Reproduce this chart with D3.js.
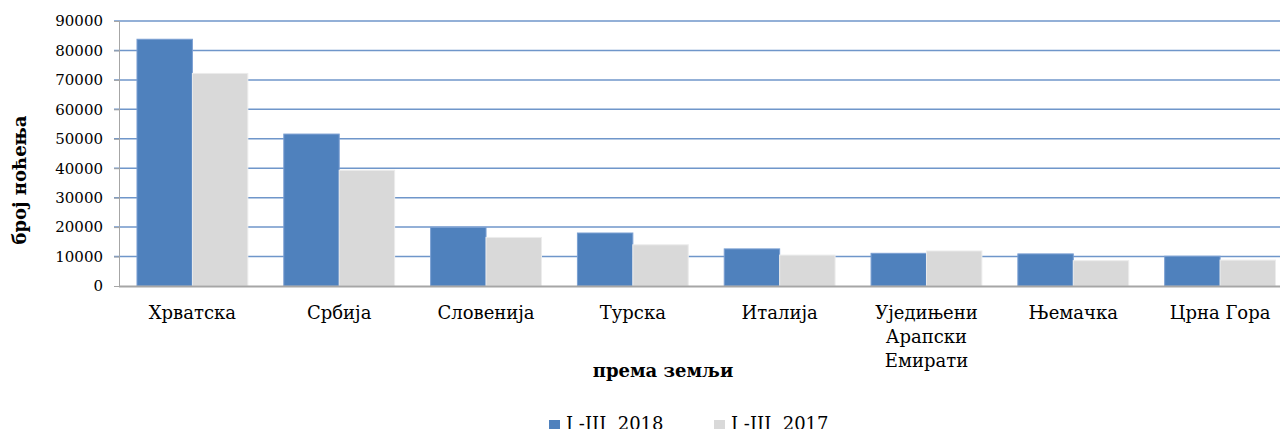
<!DOCTYPE html>
<html>
<head>
  <meta charset="utf-8">
  <title>број ноћења према земљи</title>
  <style>
  body { margin: 0px; background: #fff; overflow: hidden; }
  text { font-family: "DejaVu Serif", serif; fill: #000; }
  </style>
</head>
<body>
  <svg width="1280" height="429"></svg>
  <script src="https://d3js.org/d3.v7.min.js"></script>
  <script>
  // data
  var countries = ["Хрватска", "Србија", "Словенија", "Турска", "Италија",
    "Уједињени Арапски Емирати", "Њемачка", "Црна Гора"];
  var labelLines = [["Хрватска"], ["Србија"], ["Словенија"], ["Турска"], ["Италија"],
    ["Уједињени", "Арапски", "Емирати"], ["Њемачка"], ["Црна Гора"]];
  var series = ["I -III  2018", "I -III  2017"];
  var values2018 = [83800, 51600, 19900, 18000, 12600, 11100, 10900, 10100];
  var values2017 = [72200, 39300, 16500, 14000, 10500, 11900, 8600, 8800];
  var yTicks = [0, 10000, 20000, 30000, 40000, 50000, 60000, 70000, 80000, 90000];
  var colors = ["#4f81bd", "#d9d9d9"];

  var svg = d3.select("svg");
  // plot area (note: "top" is reserved on window, so use plot* names)
  var plotLeft = 119, plotRight = 1293.5, plotTop = 21, plotBottom = 286;

  var x = d3.scaleBand().domain(countries).range([plotLeft, plotRight])
    .paddingInner(0.245).paddingOuter(0.1225);
  var xs = d3.scaleBand().domain(series).range([0, x.bandwidth()]);
  var y = d3.scaleLinear().domain([0, 90000]).range([plotBottom, plotTop]);

  // gridlines with small tick stubs on the left
  svg.append("g").selectAll("line")
    .data(yTicks.slice(1))
    .enter()
    .append("line")
    .attr("x1", plotLeft - 5)
    .attr("x2", 1280)
    .attr("y1", function(d) { return y(d); })
    .attr("y2", function(d) { return y(d); })
    .attr("stroke", "#6f96ca")
    .attr("stroke-width", 1.5);

  // y axis
  var yAxis = d3.axisLeft(y).tickValues(yTicks).tickSize(5).tickPadding(11)
    .tickFormat(d3.format("d"));
  var gy = svg.append("g").attr("transform", "translate(" + plotLeft + ",0)").call(yAxis);
  gy.select(".domain").attr("stroke", "#a6a6a6");
  gy.selectAll(".tick line").attr("stroke", "#a6a6a6");
  gy.selectAll(".tick text")
    .style("font-family", "'DejaVu Serif', serif")
    .style("font-size", "15px")
    .attr("fill", "#000");

  var rows = countries.map(function(c, i) {
    return { country: c, vals: [values2018[i], values2017[i]] };
  });

  var groups = svg.append("g").selectAll("g")
    .data(rows)
    .enter()
    .append("g")
    .attr("transform", function(d) { return "translate(" + x(d.country) + ",0)"; });

  groups.selectAll("rect")
    .data(function(d) { return d.vals.map(function(v, j) { return { s: series[j], v: v, j: j }; }); })
    .enter()
    .append("rect")
    .attr("x", function(d) { return xs(d.s); })
    .attr("width", xs.bandwidth())
    .attr("y", function(d) { return y(d.v); })
    .attr("height", function(d) { return plotBottom - y(d.v); })
    .attr("fill", function(d) { return colors[d.j]; })
    .attr("stroke", function(d) { return d.j == 0 ? "#7a9fd2" : "#ececec"; })
    .attr("stroke-width", 1);

  // x axis line
  svg.append("line")
    .attr("x1", plotLeft).attr("x2", 1280)
    .attr("y1", plotBottom + 0.5).attr("y2", plotBottom + 0.5)
    .attr("stroke", "#a6a6a6").attr("stroke-width", 2);

  // category labels
  var labels = svg.append("g").selectAll("text")
    .data(rows)
    .enter()
    .append("text")
    .attr("x", function(d) { return x(d.country) + x.bandwidth() / 2; })
    .attr("y", 319)
    .style("text-anchor", "middle")
    .attr("font-size", "18px");
  labels.each(function(d, i) {
    var t = d3.select(this);
    labelLines[i].forEach(function(line, k) {
      t.append("tspan")
        .attr("x", x(d.country) + x.bandwidth() / 2)
        .attr("dy", k == 0 ? 0 : 24)
        .text(line);
    });
  });

  // axis titles
  svg.append("text")
    .attr("x", 663).attr("y", 377)
    .style("text-anchor", "middle")
    .attr("font-size", "18px")
    .attr("font-weight", "bold")
    .text("према земљи");

  svg.append("text")
    .attr("transform", "translate(26,180) rotate(-90)")
    .style("text-anchor", "middle")
    .attr("font-size", "18px")
    .attr("font-weight", "bold")
    .text("број ноћења");

  // legend
  var legendX = [549, 714];
  series.forEach(function(s, i) {
    svg.append("rect")
      .attr("x", legendX[i]).attr("y", 420)
      .attr("width", 11).attr("height", 11)
      .attr("fill", colors[i]);
    svg.append("text")
      .attr("x", legendX[i] + 17).attr("y", 430)
      .attr("font-size", "18px")
      .style("white-space", "pre")
      .text(s);
  });
  </script>
</body>
</html>
